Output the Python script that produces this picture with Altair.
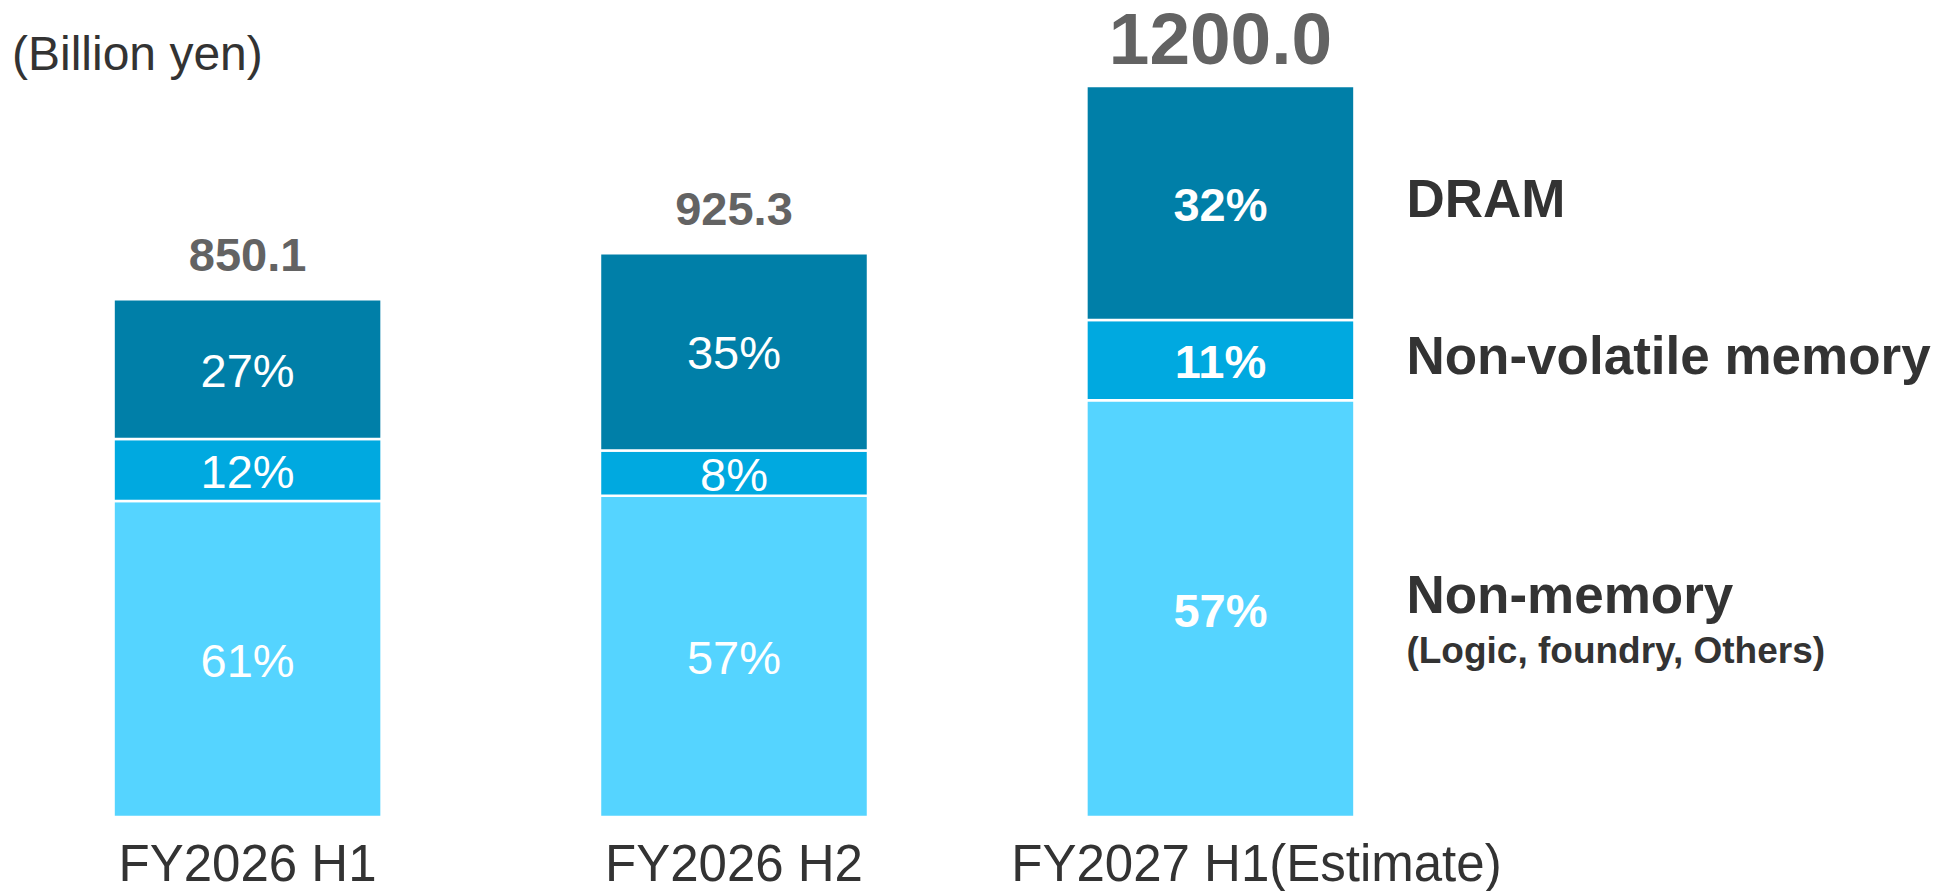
import altair as alt
import pandas as pd

# ---- data ----
periods = ["FY2026 H1", "FY2026 H2", "FY2027 H1(Estimate)"]
totals = [850.1, 925.3, 1200.0]
total_labels = ["850.1", "925.3", "1200.0"]
segments = ["Non-memory", "Non-volatile memory", "DRAM"]  # bottom -> top
pct_non_memory = [61, 57, 57]
pct_non_volatile = [12, 8, 11]
pct_dram = [27, 35, 32]
sub_note = "(Logic, foundry, Others)"
unit_label = "(Billion yen)"
colors = ["#55D4FF", "#00A9E0", "#007FA8"]

FONT = "Liberation Sans"

rows = []
for i, p in enumerate(periods):
    base = 0.0
    for seg, pcts in zip(segments, [pct_non_memory, pct_non_volatile, pct_dram]):
        v = totals[i] * pcts[i] / 100.0
        rows.append(dict(period=p, segment=seg, label=f"{pcts[i]}%",
                         y0=base, y1=base + v, mid=base + v / 2.0, est=(i == 2)))
        base += v
seg_df = pd.DataFrame(rows)
tot_df = pd.DataFrame(dict(period=periods, total=totals, label=total_labels,
                           est=[False, False, True]))
last_df = seg_df[seg_df["est"]].copy()
last_df["note"] = sub_note

x_enc = alt.X(
    "period:N", sort=periods,
    scale=alt.Scale(domain=periods, range=[0, 1452], paddingInner=0.449, paddingOuter=0.217),
    axis=alt.Axis(title=None, domain=False, ticks=False, tickSize=0, grid=False,
                  labelAngle=0, labelPadding=63, labelBaseline="alphabetic",
                  labelFont=FONT, labelFontSize=51, labelColor="#333333", labelLimit=0,
                  labelOffset={"condition": {"test": f"datum.value === '{periods[2]}'", "value": 36},
                               "value": 0}),
)
y_scale = alt.Scale(domain=[0, 1328], nice=False, zero=True)

bars = alt.Chart(seg_df).mark_bar(stroke="white", strokeWidth=2.5).encode(
    x=x_enc,
    y=alt.Y("y0:Q", scale=y_scale, axis=None),
    y2="y1:Q",
    color=alt.Color("segment:N", scale=alt.Scale(domain=segments, range=colors), legend=None),
)

pct_normal = alt.Chart(seg_df).transform_filter("!datum.est").mark_text(
    font=FONT, fontSize=47, color="white", baseline="alphabetic", dy=17.5
).encode(x=x_enc, y=alt.Y("mid:Q", scale=y_scale, axis=None), text="label:N")

pct_bold = alt.Chart(seg_df).transform_filter("datum.est").mark_text(
    font=FONT, fontSize=47, fontWeight="bold", color="white", baseline="alphabetic", dy=18
).encode(x=x_enc, y=alt.Y("mid:Q", scale=y_scale, axis=None), text="label:N")

tot_normal = alt.Chart(tot_df).transform_filter("!datum.est").mark_text(
    font=FONT, fontSize=47, fontWeight="bold", color="#636363", baseline="alphabetic", dy=-28
).encode(x=x_enc, y=alt.Y("total:Q", scale=y_scale, axis=None), text="label:N")

tot_big = alt.Chart(tot_df).transform_filter("datum.est").mark_text(
    font=FONT, fontSize=73, fontWeight="bold", color="#636363", baseline="alphabetic", dy=-22
).encode(x=x_enc, y=alt.Y("total:Q", scale=y_scale, axis=None), text="label:N")

right_top = alt.Chart(last_df).transform_filter("datum.segment !== 'Non-memory'").mark_text(
    font=FONT, fontSize=53, fontWeight="bold", color="#333333", align="left",
    baseline="alphabetic", dx=186, dy=14
).encode(x=x_enc, y=alt.Y("mid:Q", scale=y_scale, axis=None), text="segment:N")

right_nm = alt.Chart(last_df).transform_filter("datum.segment === 'Non-memory'").mark_text(
    font=FONT, fontSize=53, fontWeight="bold", color="#333333", align="left",
    baseline="alphabetic", dx=186, dy=4
).encode(x=x_enc, y=alt.Y("mid:Q", scale=y_scale, axis=None), text="segment:N")

right_note = alt.Chart(last_df).transform_filter("datum.segment === 'Non-memory'").mark_text(
    font=FONT, fontSize=37, fontWeight="bold", color="#333333", align="left",
    baseline="alphabetic", dx=186, dy=54
).encode(x=x_enc, y=alt.Y("mid:Q", scale=y_scale, axis=None), text="note:N")

chart = alt.layer(bars, pct_normal, pct_bold, tot_normal, tot_big, right_top, right_nm, right_note).properties(
    width=1940, height=809,
    autosize=alt.AutoSizeParams(type="none"),
    padding={"left": 0, "top": 0, "right": 0, "bottom": 74},
    background="white",
    title=alt.TitleParams(unit_label, anchor="start", frame="group", orient="top",
                          font=FONT, fontSize=48, fontWeight="normal", color="#333333",
                          baseline="alphabetic", offset=-112, dx=4),
).configure_view(stroke=None)

chart.save("out.html", embed_options={"renderer": "svg", "actions": False})
